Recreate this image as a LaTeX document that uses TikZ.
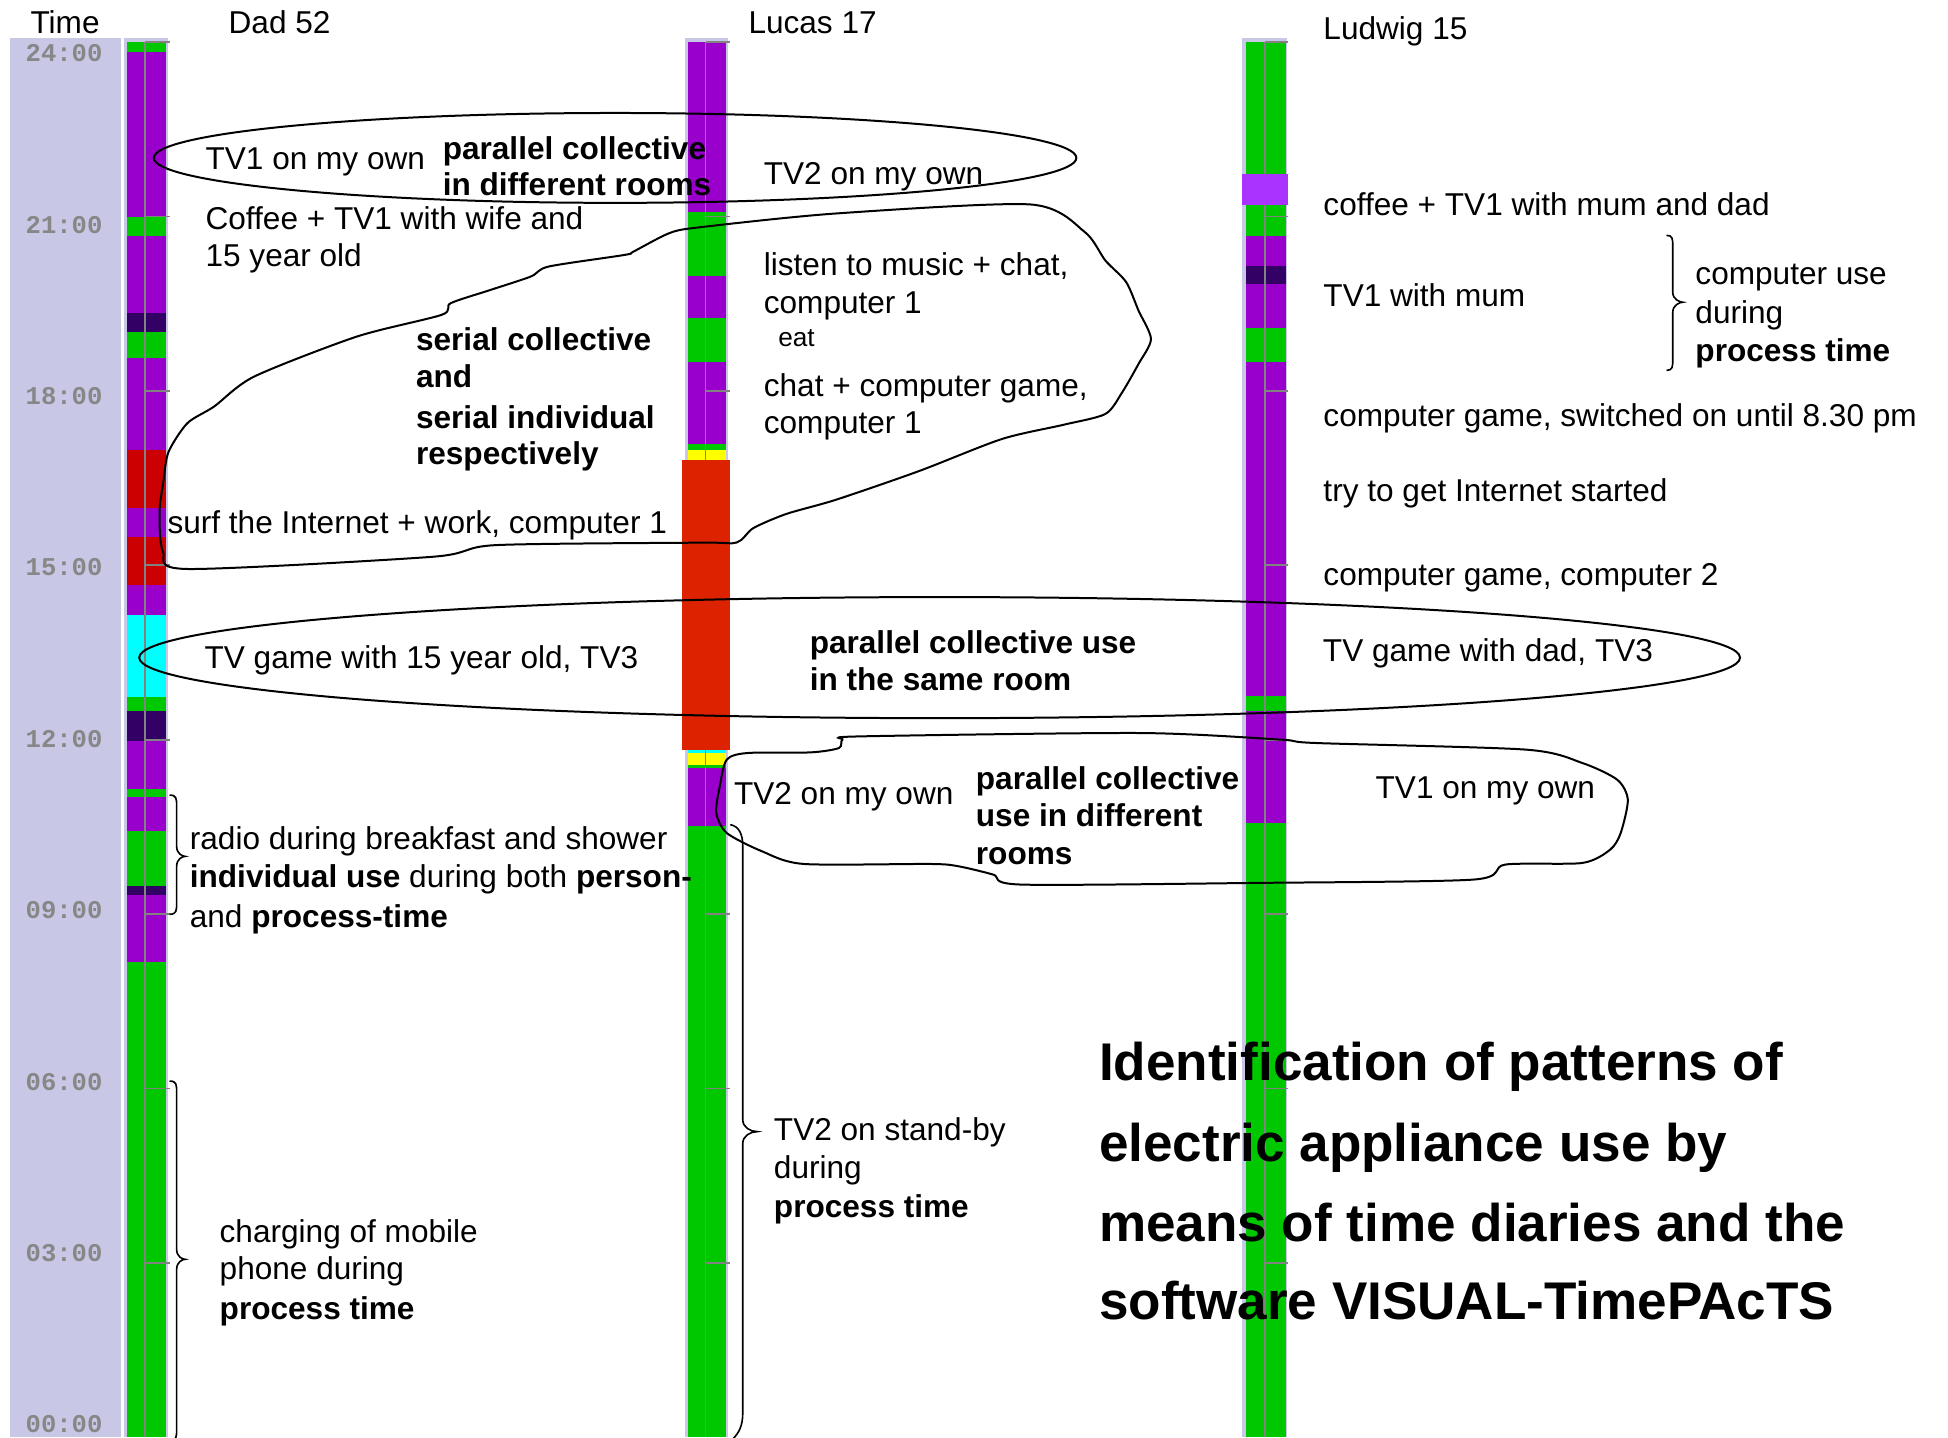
\documentclass[tikz,border=0pt]{standalone}
\usepackage{fontspec}
\setmainfont{Liberation Sans}
\newfontfamily\timefont{Liberation Mono}
\definecolor{tgreen}{RGB}{0,200,0}
\definecolor{tpurple}{RGB}{153,0,204}
\definecolor{tdark}{RGB}{51,0,102}
\definecolor{tred}{RGB}{204,0,0}
\definecolor{tredb}{RGB}{221,34,0}
\definecolor{tcyan}{RGB}{0,255,255}
\definecolor{tyellow}{RGB}{255,255,0}
\definecolor{tviolet}{RGB}{170,51,255}
\definecolor{tlav}{RGB}{200,200,230}
\definecolor{ttick}{RGB}{130,130,130}
\definecolor{labgray}{RGB}{135,135,135}
\newcommand{\mybrace}[6]{%
  \draw[braceline] (#1,#4) .. controls (#2,#4) and (#2,{#4+3}) .. (#2,{#4+9})
    -- (#2,{#5-8}) .. controls (#2,{#5-2}) and ({#3-2},#5) .. (#3,#5)
    .. controls ({#3-2},#5) and (#2,{#5+2}) .. (#2,{#5+8})
    -- (#2,{#6-9}) .. controls (#2,{#6-3}) and (#2,#6) .. (#1,#6);}
\begin{document}
\begin{tikzpicture}[x=1pt,y=-1pt,
  txt/.style={anchor=base west, inner sep=0pt, font=\fontsize{25.3}{30}\selectfont},
  btxt/.style={anchor=base west, inner sep=0pt, font=\fontsize{25.3}{30}\selectfont\bfseries},
  smalltxt/.style={anchor=base west, inner sep=0pt, font=\fontsize{21}{25}\selectfont},
  ttl/.style={anchor=base west, inner sep=0pt, font=\fontsize{42.5}{50}\selectfont\bfseries},
  timelab/.style={anchor=center, inner sep=0pt, text=labgray, font=\timefont\bfseries\fontsize{20.5}{24}\selectfont},
  blobline/.style={line width=1.6pt, black},
  braceline/.style={line width=1.3pt, black},
  tickline/.style={ttick, line width=1.4pt},
  divline/.style={ttick, line width=1.1pt}]
\useasboundingbox (0,0) rectangle (1560.5,1151.2);
\fill[white] (0,0) rectangle (1560.5,1151.2);
% time panel
\fill[tlav] (7.9,30.7) rectangle (96.6,1151.2);
\foreach \k/\l in {0/24:00,1/21:00,2/18:00,3/15:00,4/12:00,5/09:00,6/06:00,7/03:00,8/00:00}
  \node[timelab] (tl\k) at (51.3,{42.7+\k*137.3}) {\l};
% Dad bar
\fill[tlav] (99.3,30.7) rectangle (134.8,1151.2);
\foreach \a/\b/\c in {33.4/41.9/tgreen,41.9/173.5/tpurple,173.5/188.7/tgreen,188.7/250.9/tpurple,
  250.9/266.1/tdark,266.1/286.9/tgreen,286.9/360.8/tpurple,360.8/406.6/tred,406.6/429.9/tpurple,
  429.9/469/tred,469/492.3/tpurple,492.3/558.3/tcyan,558.3/569.5/tgreen,569.5/593.4/tdark,
  593.4/632.1/tpurple,632.1/638.3/tgreen,638.3/665.8/tpurple,665.8/709.9/tgreen,709.9/716.9/tdark,
  716.9/770.3/tpurple,770.3/1151.2/tgreen}
  \fill[\c] (102,\a) rectangle (132.9,\b);
\draw[divline] (116.1,33.4) -- (116.1,1151.2);
\foreach \k in {0,...,7} \draw[tickline] (116.1,{33.8+\k*139.68}) -- (136,{33.8+\k*139.68});
% Lucas bar
\fill[tlav] (549,30.7) rectangle (583.5,1151.2);
\foreach \a/\b/\c in {33.6/170.1/tpurple,170.1/221/tgreen,221/254.5/tpurple,254.5/289.6/tgreen,
  289.6/356/tpurple,356/360.8/tgreen,360.8/368.8/tyellow,368.8/600.5/tredb,600.5/603.2/tcyan,
  603.2/612.5/tyellow,612.5/615.2/tgreen,615.2/661.9/tpurple,661.9/1151.2/tgreen}
  \fill[\c] (551.5,\a) rectangle (581.8,\b);
\draw[divline] (565.2,33.6) -- (565.2,1151.2);
\foreach \k in {0,...,7} \draw[tickline] (565.2,{33.8+\k*139.68}) -- (584.5,{33.8+\k*139.68});
\fill[tredb] (546.5,368.8) rectangle (584.5,600.5);
% Ludwig bar
\fill[tlav] (995,30.7) rectangle (1031,1151.2);
\foreach \a/\b/\c in {33.7/189.1/tgreen,189.1/213/tpurple,213/227.7/tdark,227.7/263/tpurple,
  263/289.6/tgreen,289.6/557.8/tpurple,557.8/569.8/tgreen,569.8/659.3/tpurple,659.3/1151.2/tgreen}
  \fill[\c] (998.3,\a) rectangle (1029.9,\b);
\draw[divline] (1013.3,33.7) -- (1013.3,1151.2);
\foreach \k in {0,...,7} \draw[tickline] (1013.3,{33.8+\k*139.68}) -- (1032,{33.8+\k*139.68});
\fill[tviolet] (995,139.5) rectangle (1031.5,164);
% headers
\node[txt] (hTime) at (24.3,26.7) {Time};
\node[txt] (hDad) at (183,26.7) {Dad 52};
\node[txt] (hLucas) at (599.4,27.2) {Lucas 17};
\node[txt] (hLudwig) at (1060,31.6) {Ludwig 15};
% ellipses and blobs
\draw[blobline] (492.75,126.5) ellipse [x radius=369.5, y radius=36];
\draw[blobline] (752.7,526.8) ellipse [x radius=641.2, y radius=48.5];
\draw[blobline] plot[smooth cycle, tension=0.45] coordinates {
  (150.1,455.8) (130.5,441.7) (127.8,410) (131,385) (135,362) (150.1,339) (171.6,325.6)
  (203.7,301.6) (285.9,269.6) (353.8,252.2) (361,242.9) (393.1,232.2) (425.3,221.5)
  (439.6,213.5) (500.4,204.2) (507.5,201.5) (536.1,186.8) (560.2,182.1) (669.8,171)
  (825.7,163.8) (868.9,185.8) (885.5,208.7) (902.1,225.9) (912,248.7) (922,271.6)
  (912,291.6) (898.8,314.5) (885.5,331.6) (852.3,340.2) (802.5,351.7) (736.1,377.4)
  (669.8,400.3) (629.9,411.7) (603.4,423.1) (590.1,434.6) (560.4,434.7) (396.7,436.7)
  (346.7,446)};
\draw[blobline] plot[smooth cycle, tension=0.45] coordinates {
  (582.2,608.5) (599,603.2) (649.6,602.7) (672.1,599.2) (674.9,592.5) (688.9,589.9)
  (913.6,587.2) (1026,592.5) (1054,595.2) (1222.5,600.5) (1267.5,611.2) (1295.5,624.6)
  (1304,640.6) (1298.3,667.3) (1289.9,680.6) (1267.5,691.3) (1205.7,692.6) (1180.4,704.6)
  (1003.5,707.3) (818.1,708.6) (795.6,700.6) (767.5,693.9) (745.1,692.1) (644,692.1)
  (610.3,681.9) (582.2,667.3) (573.8,651.2) (576.6,629.9)};
% braces
\mybrace{135.8}{141.5}{148.3}{636.9}{686}{732.4}
\mybrace{135.8}{141.5}{148.3}{866}{1008.8}{1154}
\mybrace{1335}{1340}{1348}{188.5}{242.1}{296.7}
\draw[braceline] (585,660.6) .. controls (592,662) and (595,668) .. (595,678)
  -- (595,897) .. controls (595,903) and (601,906.5) .. (606.6,906.5)
  .. controls (601,906.5) and (595,910) .. (595,916)
  -- (595,1132) .. controls (595,1142) and (592,1148) .. (586.7,1153);
% Dad texts
\node[txt] (d1) at (164.5,136.1) {TV1 on my own};
\node[btxt] (d2a) at (354.5,127.6) {parallel collective};
\node[btxt] (d2b) at (354.5,156.9) {in different rooms};
\node[txt] (d3a) at (164.5,184.1) {Coffee + TV1 with wife and};
\node[txt] (d3b) at (164.5,213.5) {15 year old};
\node[btxt] (d4a) at (333.1,280.8) {serial collective};
\node[btxt] (d4b) at (333.1,310.1) {and};
\node[btxt] (d4c) at (333.1,343) {serial individual};
\node[btxt] (d4d) at (333.1,372.3) {respectively};
\node[txt] (d5) at (134,427.1) {surf the Internet + work, computer 1};
\node[txt] (d6) at (163.7,535.8) {TV game with 15 year old, TV3};
\node[txt] (d7a) at (151.9,680.4) {radio during breakfast and shower};
\node[txt] (d7b) at (151.9,711.3) {\textbf{individual use} during both \textbf{person-}};
\node[txt] (d7c) at (151.9,742.8) {and \textbf{process-time}};
\node[txt] (d8a) at (175.8,995.5) {charging of mobile};
\node[txt] (d8b) at (175.8,1024.8) {phone during};
\node[btxt] (d8c) at (175.8,1056.9) {process time};
% Lucas texts
\node[txt] (l1) at (611.7,148.1) {TV2 on my own};
\node[txt] (l2a) at (611.7,221) {listen to music + chat,};
\node[txt] (l2b) at (611.7,251) {computer 1};
\node[smalltxt] (l3) at (623.3,277.3) {eat};
\node[txt] (l4a) at (611.7,317.3) {chat + computer game,};
\node[txt] (l4b) at (611.7,347.4) {computer 1};
\node[btxt] (l5a) at (648.5,523.1) {parallel collective use};
\node[btxt] (l5b) at (648.5,553) {in the same room};
\node[txt] (l6) at (587.8,644.6) {TV2 on my own};
\node[btxt] (l7a) at (781.6,632.6) {parallel collective};
\node[btxt] (l7b) at (781.6,661.9) {use in different};
\node[btxt] (l7c) at (781.6,692.6) {rooms};
\node[txt] (l8a) at (619.8,913.9) {TV2 on stand-by};
\node[txt] (l8b) at (619.8,944) {during};
\node[btxt] (l8c) at (619.8,975.6) {process time};
% Ludwig texts
\node[txt] (w1) at (1060,172.6) {coffee + TV1 with mum and dad};
\node[txt] (w2) at (1060,245.2) {TV1 with mum};
\node[txt] (w3a) at (1358,228.3) {computer use};
\node[txt] (w3b) at (1358,259) {during};
\node[btxt] (w3c) at (1358,289.6) {process time};
\node[txt] (w4) at (1060,341.7) {computer game, switched on until 8.30 pm};
\node[txt] (w5) at (1060,401.5) {try to get Internet started};
\node[txt] (w6) at (1060,469) {computer game, computer 2};
\node[txt] (w7) at (1059.6,529.8) {TV game with dad, TV3};
\node[txt] (w8) at (1101.8,640) {TV1 on my own};
% title
\node[ttl] (t1) at (880.3,865.9) {Identification of patterns of};
\node[ttl] (t2) at (880.3,930.4) {electric appliance use by};
\node[ttl] (t3) at (880.3,994.8) {means of time diaries and the};
\node[ttl] (t4) at (880.3,1057.3) {software VISUAL-TimePAcTS};
\end{tikzpicture}
\end{document}
